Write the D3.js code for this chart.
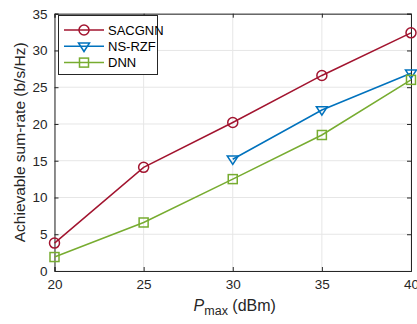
<!DOCTYPE html>
<html>
<head>
<meta charset="utf-8">
<script src="https://cdn.jsdelivr.net/npm/d3@7"></script>
<style>
  body { margin: 0; background: #fff; }
  svg { display: block; font-family: "Liberation Sans", Arial, sans-serif; }
</style>
</head>
<body>
<div id="chart"></div>
<script>
const power = [20, 25, 30, 35, 40];
const sacgnn = [3.8, 14.1, 20.2, 26.6, 32.4];
const nsrzf = [null, null, 15.2, 21.9, 26.9];
const dnn = [1.9, 6.6, 12.5, 18.5, 26.0];
const xTicks = [20, 25, 30, 35, 40];
const yTicks = [0, 5, 10, 15, 20, 25, 30, 35];

const W = 417, H = 324;
const margin = {left: 54.5, right: 6, top: 13.7, bottom: 53};

const svg = d3.select("#chart").append("svg")
    .attr("width", W).attr("height", H);

const x = d3.scaleLinear().domain([20, 40]).range([margin.left, W - margin.right]);
const y = d3.scaleLinear().domain([0, 35]).range([H - margin.bottom, margin.top]);

const x0 = x.range()[0], x1 = x.range()[1], y0 = y.range()[0], y1 = y.range()[1];

// grid
svg.append("g").selectAll("line").data(xTicks).join("line")
    .attr("x1", d => x(d)).attr("x2", d => x(d))
    .attr("y1", y0).attr("y2", y1)
    .attr("stroke", "#e6e6e6").attr("stroke-width", 1);
svg.append("g").selectAll("line").data(yTicks).join("line")
    .attr("x1", x0).attr("x2", x1)
    .attr("y1", d => y(d)).attr("y2", d => y(d))
    .attr("stroke", "#e6e6e6").attr("stroke-width", 1);

// axes
const ax = svg.append("g").attr("transform", `translate(0,${y0})`)
    .call(d3.axisBottom(x).tickValues(xTicks).tickSize(-4).tickPadding(8));
const axTop = svg.append("g").attr("transform", `translate(0,${y1})`)
    .call(d3.axisTop(x).tickValues(xTicks).tickSize(-4).tickFormat(""));
const ay = svg.append("g").attr("transform", `translate(${x0},0)`)
    .call(d3.axisLeft(y).tickValues(yTicks).tickSize(-4).tickPadding(7));
const ayR = svg.append("g").attr("transform", `translate(${x1},0)`)
    .call(d3.axisRight(y).tickValues(yTicks).tickSize(-4).tickFormat(""));
[ax, axTop, ay, ayR].forEach(g => {
    g.selectAll("path, line").attr("stroke", "#262626").attr("stroke-width", 1);
    g.selectAll("text").attr("fill", "#262626").style("font-size", "13.5px");
});

// series
const series = [
    {name: "SACGNN", values: sacgnn, color: "#A2142F", marker: "circle"},
    {name: "NS-RZF", values: nsrzf, color: "#0072BD", marker: "triangle"},
    {name: "DNN", values: dnn, color: "#77AC30", marker: "square"}
];

const line = d3.line()
    .defined(d => d[1] != null)
    .x(d => x(d[0])).y(d => y(d[1]));

function drawMarker(g, type, cx, cy, color) {
    if (type === "circle") {
        g.append("circle").attr("cx", cx).attr("cy", cy).attr("r", 5)
            .attr("fill", "none").attr("stroke", color).attr("stroke-width", 1.5);
    } else if (type === "triangle") {
        const s = 5.5;
        g.append("path")
            .attr("d", `M${cx - s},${cy - s * 0.6}L${cx + s},${cy - s * 0.6}L${cx},${cy + s * 0.95}Z`)
            .attr("fill", "none").attr("stroke", color).attr("stroke-width", 1.5);
    } else {
        const s = 4.5;
        g.append("rect").attr("x", cx - s).attr("y", cy - s).attr("width", 2 * s).attr("height", 2 * s)
            .attr("fill", "none").attr("stroke", color).attr("stroke-width", 1.5);
    }
}

series.forEach(s => {
    const pts = power.map((p, i) => [p, s.values[i]]);
    const g = svg.append("g");
    g.append("path").datum(pts).attr("d", line)
        .attr("fill", "none").attr("stroke", s.color).attr("stroke-width", 1.5);
    pts.filter(d => d[1] != null).forEach(d => drawMarker(g, s.marker, x(d[0]), y(d[1]), s.color));
});

// legend
const lg = svg.append("g");
lg.append("rect").attr("x", 58.5).attr("y", 15.5).attr("width", 99).attr("height", 59)
    .attr("fill", "#fff").attr("stroke", "#262626").attr("stroke-width", 1);
series.forEach((s, i) => {
    const ly = 30 + i * 16.3;
    lg.append("line").attr("x1", 64).attr("x2", 104).attr("y1", ly).attr("y2", ly)
        .attr("stroke", s.color).attr("stroke-width", 1.5);
    drawMarker(lg, s.marker, 84, ly, s.color);
    lg.append("text").attr("x", 108).attr("y", ly).attr("dy", "0.35em")
        .style("font-size", "13px").attr("fill", "#000").text(s.name);
});

// axis labels
svg.append("text")
    .attr("transform", `translate(25,${(y0 + y1) / 2}) rotate(-90)`)
    .attr("text-anchor", "middle").attr("fill", "#262626").style("font-size", "15.5px")
    .text("Achievable sum-rate (b/s/Hz)");

const xl = svg.append("text")
    .attr("x", (x0 + x1) / 2 + 2).attr("y", 311)
    .attr("text-anchor", "middle").attr("fill", "#262626").style("font-size", "16px");
xl.append("tspan").style("font-style", "italic").text("P");
xl.append("tspan").attr("dy", 4).style("font-size", "12.5px").text("max");
xl.append("tspan").attr("dy", -4).text(" (dBm)");
</script>
</body>
</html>
